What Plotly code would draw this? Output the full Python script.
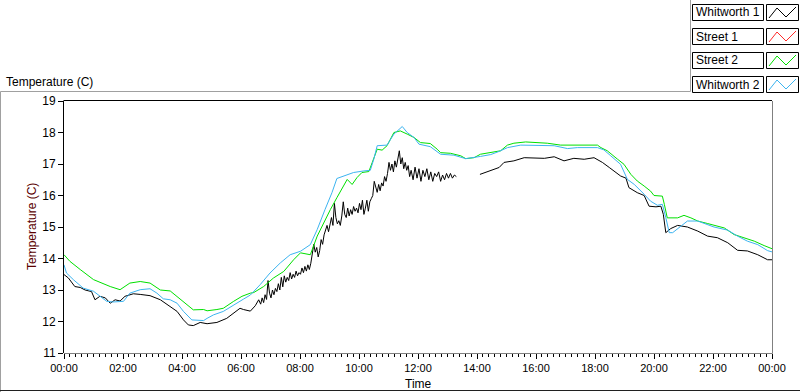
import plotly.graph_objects as go
from datetime import datetime, timedelta

# ---------------- data (minutes after midnight, temperature in C) ----------------
SERIES_NAMES = ["Whitworth 1", "Street 1", "Street 2", "Whitworth 2"]

W1_MIN = [0, 9, 22, 33, 43, 56, 63, 73, 84, 94, 104, 114, 124, 141, 155, 175, 196, 216, 230, 243,
          253, 263, 277, 291, 311, 331, 345, 358, 365, 379, 389, 396,
          400, 403, 406, 409, 412, 415, 418, 421, 424, 427, 430, 433, 436, 439, 442, 445, 448, 451,
          454, 457, 460, 463, 466, 469, 472, 475, 478, 481, 484, 487, 490, 493, 496, 499, 502, 505,
          508, 511, 514, 517, 520, 523, 526, 529, 532, 535, 538, 541, 544, 547, 550, 553, 556, 559,
          562, 565, 568, 571, 574, 577, 580, 583, 586, 589, 592, 595, 598, 601, 604, 607, 610, 613,
          616, 619, 622, 625, 628, 631, 634, 637, 640, 643, 646, 649, 652, 655, 658, 661, 664, 667,
          670, 673, 676, 679, 682, 685, 688, 691, 694, 697, 700, 703,
          706, 710, 714, 718, 722, 726, 730, 734, 738, 742, 746, 750, 754, 758,
          762, 766, 770, 774, 778, 782, 786, 790, 794, 798, 820, 846, 868, 885, 895, 915, 936, 956,
          977, 997, 1017, 1037, 1058, 1078, 1095, 1109, 1132, 1143, 1149, 1166, 1180, 1190, 1204,
          1214, 1219, 1224, 1234, 1248, 1268, 1289, 1309, 1329, 1350, 1370, 1390, 1411, 1431, 1440]
W1_VAL = [13.49, 13.38, 13.11, 13.08, 13.0, 12.95, 12.69, 12.8, 12.75, 12.58, 12.69, 12.65, 12.8,
          12.88, 12.86, 12.82, 12.69, 12.48, 12.32, 12.05, 11.89, 11.87, 11.97, 11.93, 11.97, 12.1,
          12.26, 12.42, 12.38, 12.33, 12.5, 12.69,
          12.55, 12.75, 12.6, 12.85, 12.7, 13.3, 12.9, 12.75, 13.0, 12.85, 13.05, 12.95, 13.2, 13.0,
          13.4, 13.1, 13.45, 13.25, 13.4, 13.3, 13.55, 13.35, 13.5, 13.4, 13.6, 13.45, 13.55, 13.5,
          13.7, 13.55, 13.75, 13.6, 13.8, 13.65, 13.85, 14.1, 14.45, 14.2, 14.35, 14.05, 14.25, 14.6,
          14.45, 14.75, 14.9, 15.05, 14.85, 15.1, 15.3, 15.05, 15.75, 15.3, 15.1, 15.2, 15.05, 15.35,
          15.8, 15.4, 15.3, 15.6, 15.35, 15.55, 15.4, 15.65, 15.5, 15.6, 15.45, 15.75, 15.55, 15.85,
          15.4, 15.6, 15.85, 15.5, 15.8, 15.9, 16.0, 16.45, 16.3, 16.1, 16.35, 16.15, 16.4, 16.3,
          16.6, 16.45, 16.7, 17.05, 16.8, 17.0, 16.75, 17.1, 16.9, 17.15, 17.42, 17.0, 17.2, 16.85,
          17.05, 16.8, 16.95, 16.6,
          16.8, 16.5, 16.9, 16.55, 16.85, 16.45, 16.8, 16.6, 16.85, 16.5, 16.75, 16.45, 16.7, 16.6,
          16.75, 16.45, 16.65, 16.5, 16.7, 16.55, 16.7, 16.55, 16.65, 16.6, None, 16.67, 16.78,
          16.89, 17.05, 17.1, 17.2, 17.18, 17.18, 17.23, 17.1, 17.18, 17.15, 17.2, 17.05, 16.89,
          16.62, 16.55, 16.25, 16.09, 16.0, 15.66, 15.64, 15.66, 15.4, 14.82, 14.95, 15.05, 15.0,
          14.87, 14.71, 14.66, 14.5, 14.26, 14.24, 14.12, 13.96, 13.96]

S1_MIN = []
S1_VAL = []

S2_MIN = [0, 12, 33, 60, 94, 114, 134, 155, 175, 196, 216, 230, 250, 263, 284, 291, 311, 324, 345,
          362, 379, 386, 406, 426, 447, 467, 481, 501, 515, 528, 542, 555, 569, 576, 586, 596, 606,
          620, 627, 637, 647, 657, 671, 684, 698, 712, 725, 745, 759, 766, 786, 807, 817, 834, 847,
          868, 888, 902, 915, 939, 963, 983, 1010, 1044, 1085, 1092, 1105, 1126, 1139, 1153, 1166,
          1180, 1193, 1200, 1217, 1221, 1227, 1248, 1261, 1275, 1289, 1309, 1343, 1363, 1384, 1404,
          1424, 1440]
S2_VAL = [14.12, 13.91, 13.65, 13.33, 13.11, 13.01, 13.22, 13.27, 13.22, 13.0, 12.97, 12.8, 12.53,
          12.37, 12.38, 12.34, 12.38, 12.42, 12.64, 12.8, 12.9, 12.92, 13.11, 13.38, 13.59, 13.96,
          14.18, 14.12, 14.71, 15.13, 15.56, 15.93, 16.3, 16.51, 16.35, 16.57, 16.73, 16.76, 17.05,
          17.47, 17.44, 17.58, 18.0, 18.05, 17.95, 17.84, 17.68, 17.65, 17.47, 17.36, 17.34, 17.26,
          17.17, 17.2, 17.31, 17.36, 17.42, 17.6, 17.66, 17.7, 17.68, 17.66, 17.6, 17.6, 17.6, 17.52,
          17.42, 17.15, 16.99, 16.67, 16.46, 16.3, 16.14, 16.0, 15.98, 15.72, 15.29, 15.29, 15.37,
          15.29, 15.19, 15.11, 14.97, 14.76, 14.66, 14.55, 14.41, 14.31]

W2_MIN = [0, 5, 19, 39, 60, 73, 87, 100, 121, 134, 155, 175, 189, 202, 216, 230, 243, 260, 284, 291,
          304, 324, 345, 365, 379, 399, 419, 440, 460, 481, 501, 515, 531, 545, 555, 569, 589, 610,
          623, 630, 637, 657, 671, 688, 698, 712, 722, 745, 766, 793, 817, 847, 868, 885, 902, 929,
          963, 997, 1024, 1044, 1085, 1098, 1112, 1132, 1146, 1160, 1180, 1193, 1207, 1217, 1224,
          1231, 1238, 1255, 1268, 1289, 1309, 1322, 1350, 1370, 1390, 1411, 1431, 1440]
W2_VAL = [13.8, 13.54, 13.33, 13.06, 12.96, 12.8, 12.64, 12.62, 12.64, 12.9, 13.01, 13.04, 12.9,
          12.72, 12.69, 12.58, 12.32, 12.05, 12.03, 12.1, 12.21, 12.32, 12.53, 12.71, 12.84, 13.17,
          13.54, 13.86, 14.12, 14.23, 14.44, 14.92, 15.56, 16.09, 16.54, 16.62, 16.73, 16.78, 16.8,
          17.15, 17.58, 17.6, 17.95, 18.19, 18.0, 17.84, 17.63, 17.55, 17.31, 17.28, 17.17, 17.24,
          17.3, 17.4, 17.52, 17.6, 17.6, 17.58, 17.49, 17.52, 17.52, 17.45, 17.26, 16.99, 16.51,
          16.35, 16.04, 15.82, 15.69, 15.72, 15.3, 14.82, 14.82, 15.03, 15.19, 15.19, 15.08, 15.0,
          14.9, 14.71, 14.55, 14.44, 14.25, 14.21]

COLORS = ["#000000", "#ff2a2a", "#00e000", "#3cb4f0"]
Y_RANGE = [11, 19]

# ---------------- figure ----------------
BASE = datetime(2020, 1, 1)


def to_t(mins):
    return [BASE + timedelta(minutes=m) for m in mins]


fig = go.Figure()
for name, mins, vals, col in zip(SERIES_NAMES,
                                 [W1_MIN, S1_MIN, S2_MIN, W2_MIN],
                                 [W1_VAL, S1_VAL, S2_VAL, W2_VAL], COLORS):
    fig.add_trace(go.Scatter(x=to_t(mins), y=vals, mode="lines", name=name,
                             line=dict(color=col, width=1), connectgaps=False,
                             showlegend=False))

W, H = 800, 392
L, R, T, B = 64, 28, 101, 39
PW, PH = W - L - R, H - T - B


def px(x):
    return (x - L) / PW


def py(y):
    return (H - B - y) / PH


shapes = []


def line(x0, y0, x1, y1, color, width=1):
    shapes.append(dict(type="line", xref="paper", yref="paper",
                       x0=px(x0), y0=py(y0), x1=px(x1), y1=py(y1),
                       line=dict(color=color, width=width), layer="above"))


# outer frame
line(0.5, 91.5, 690.5, 91.5, "#a0a0a0")
line(690.5, 0, 690.5, 91.5, "#a0a0a0")
line(0.5, 91.5, 0.5, 392, "#a0a0a0")
line(0, 390.5, 800, 390.5, "#202020")
# plot area border
line(L - 0.5, T, L - 0.5, H - B, "#000000")
line(L - 0.5, T - 0.5, W - R, T - 0.5, "#000000")
line(W - R + 0.5, T, W - R + 0.5, H - B + 0.5, "#808080")
line(L, H - B + 0.5, W - R + 0.5, H - B + 0.5, "#808080")

annotations = []
# legend
for i, (name, col) in enumerate(zip(SERIES_NAMES, COLORS)):
    top = 4 + 24 * i
    shapes.append(dict(type="rect", xref="paper", yref="paper",
                       x0=px(692.5), x1=px(763.5), y0=py(top + 0.5), y1=py(top + 16.5),
                       line=dict(color="#000000", width=1), fillcolor="white", layer="above"))
    shapes.append(dict(type="rect", xref="paper", yref="paper",
                       x0=px(766.5), x1=px(798.5), y0=py(top + 0.5), y1=py(top + 16.5),
                       line=dict(color="#000000", width=1), fillcolor="white", layer="above"))
    pts = [(769, top + 14), (777, top + 4), (786, top + 13), (796, top + 3)]
    path = "M " + " L ".join(f"{px(a)},{py(b)}" for a, b in pts)
    shapes.append(dict(type="path", xref="paper", yref="paper", path=path,
                       line=dict(color=col, width=1), layer="above"))
    annotations.append(dict(x=px(694), y=py(top + 8.5), xref="paper", yref="paper",
                            text=name, showarrow=False, xanchor="left", yanchor="middle",
                            font=dict(family="Liberation Sans", size=12, color="#000000")))

annotations.append(dict(x=px(4), y=py(82), xref="paper", yref="paper", text="Temperature (C)",
                        showarrow=False, xanchor="left", yanchor="middle",
                        font=dict(family="Liberation Sans", size=12, color="#000000")))
annotations.append(dict(x=px(32), y=0.5, xref="paper", yref="paper", text="Temperature (C)",
                        showarrow=False, xanchor="center", yanchor="middle", textangle=-90,
                        font=dict(family="Liberation Sans", size=12, color="#5a0000")))
annotations.append(dict(x=px(419), y=py(384), xref="paper", yref="paper", text="Time",
                        showarrow=False, xanchor="center", yanchor="middle",
                        font=dict(family="Liberation Sans", size=12, color="#000000")))

fig.update_layout(
    width=W, height=H, margin=dict(l=L, r=R, t=T, b=B, pad=0),
    paper_bgcolor="white", plot_bgcolor="white",
    shapes=shapes, annotations=annotations, showlegend=False,
    xaxis=dict(type="date", range=[BASE, BASE + timedelta(days=1)], tickformat="%H:%M",
               dtick=7200000, tick0=BASE, ticks="outside", ticklen=5, tickcolor="#000000",
               tickwidth=1, showgrid=False, zeroline=False, showline=False,
               minor=dict(dtick=720000, ticks="outside", ticklen=3, tickcolor="#000000",
                          showgrid=False),
               tickfont=dict(family="Liberation Sans", size=11, color="#000000"), fixedrange=True),
    yaxis=dict(range=Y_RANGE, dtick=1, ticks="outside", ticklen=5, tickcolor="#000000",
               tickwidth=1, showgrid=False, zeroline=False, showline=False,
               tickfont=dict(family="Liberation Sans", size=12, color="#000000"), fixedrange=True),
)

fig.write_html("out.html", config={"displayModeBar": False},
               post_script="document.body.style.margin='0';document.body.style.overflow='hidden';")
